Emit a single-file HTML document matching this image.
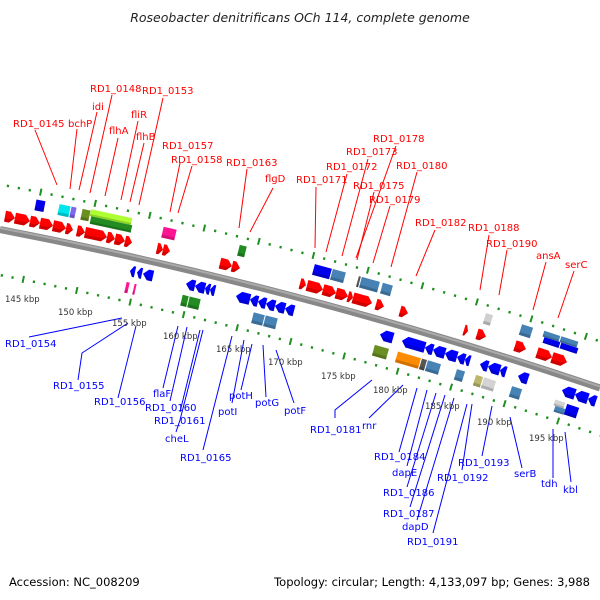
<!DOCTYPE html>
<html><head><meta charset="utf-8">
<style>
html,body{margin:0;padding:0;background:#fff;}
svg{display:block;}
.t{font-family:"DejaVu Sans","Liberation Sans",sans-serif;font-size:10px;}
.r{fill:#f00;}
.b{fill:#00f;}
.k{font-family:"DejaVu Sans","Liberation Sans",sans-serif;font-size:8.5px;fill:#333;}
.lr{stroke:#f00;stroke-width:1;fill:none;}
.lb{stroke:#00f;stroke-width:1;fill:none;}
</style></head>
<body>
<svg id="s" width="600" height="600" viewBox="0 0 600 600" xmlns="http://www.w3.org/2000/svg">
<rect width="600" height="600" fill="#fff"/>
<text x="300" y="22" text-anchor="middle" font-family="DejaVu Sans, Liberation Sans, sans-serif" font-size="12.5" font-style="italic" fill="#222">Roseobacter denitrificans OCh 114, complete genome</text>
<g id="dots"></g>
<path d="M0 229.5 Q300 287.2 600 388" stroke="#888" stroke-width="7" fill="none"/>
<path d="M0 228 Q300 285.7 600 386.5" stroke="#aaa" stroke-width="2" fill="none"/>
<g id="genes"></g>
<!-- red leader lines -->
<g class="lr">
<polyline points="35,130 57,185"/><polyline points="77,129 70,189"/><polyline points="97,112 79,190"/>
<polyline points="112,95 90,193"/><polyline points="163,98 139,205"/><polyline points="118,138 105,196"/>
<polyline points="138,121 121,200"/><polyline points="144,143 130,202"/><polyline points="180,163 170,212"/>
<polyline points="192,166 178,213"/><polyline points="247,169 239,228"/><polyline points="273,188 250,232"/>
<polyline points="316,187 315,248"/><polyline points="347,174 326,252"/><polyline points="368,159 342,256"/>
<polyline points="396,146 356,258"/><polyline points="374,192 357,260"/><polyline points="390,206 373,263"/>
<polyline points="417,172 391,267"/><polyline points="435,230 416,276"/><polyline points="489,235 480,290"/>
<polyline points="507,250 499,295"/><polyline points="546,262 533,310"/><polyline points="574,271 558,318"/>
</g>
<g class="t r">
<text x="13" y="127">RD1_0145</text><text x="68" y="127">bchP</text><text x="92" y="110">idi</text>
<text x="90" y="92">RD1_0148</text><text x="142" y="94">RD1_0153</text><text x="109" y="134">flhA</text>
<text x="131" y="118">fliR</text><text x="136" y="140">flhB</text><text x="162" y="149">RD1_0157</text>
<text x="171" y="163">RD1_0158</text><text x="226" y="166">RD1_0163</text><text x="265" y="182">flgD</text>
<text x="296" y="183">RD1_0171</text><text x="326" y="170">RD1_0172</text><text x="346" y="155">RD1_0173</text>
<text x="373" y="142">RD1_0178</text><text x="353" y="189">RD1_0175</text><text x="369" y="203">RD1_0179</text>
<text x="396" y="169">RD1_0180</text><text x="415" y="226">RD1_0182</text><text x="468" y="231">RD1_0188</text>
<text x="486" y="247">RD1_0190</text><text x="536" y="259">ansA</text><text x="565" y="268">serC</text>
</g>
<!-- blue leader lines -->
<g class="lb">
<polyline points="29,337 122,318"/><polyline points="78,380 82,353 128,323"/><polyline points="118,398 136,326"/>
<polyline points="163,388 178,326"/><polyline points="170,401 187,327"/><polyline points="180,412 200,330"/>
<polyline points="176,432 180,420 203,330"/><polyline points="203,450 232,336"/><polyline points="232,403 244,340"/>
<polyline points="241,390 252,344"/><polyline points="266,397 263,345"/><polyline points="294,403 276,350"/>
<polyline points="335,418 335,410 372,380"/><polyline points="369,418 403,385"/><polyline points="399,452 417,388"/>
<polyline points="407,466 427,390"/><polyline points="407,487 436,393"/><polyline points="410,507 445,395"/>
<polyline points="417,520 454,398"/><polyline points="433,533 467,404"/><polyline points="462,470 472,404"/>
<polyline points="482,456 492,406"/><polyline points="522,468 510,417"/><polyline points="553,478 553,429"/>
<polyline points="571,482 565,432"/>
</g>
<g class="t b">
<text x="5" y="347">RD1_0154</text><text x="53" y="389">RD1_0155</text><text x="94" y="405">RD1_0156</text>
<text x="153" y="397">flaF</text><text x="145" y="411">RD1_0160</text><text x="154" y="424">RD1_0161</text>
<text x="165" y="442">cheL</text><text x="180" y="461">RD1_0165</text><text x="229" y="399">potH</text>
<text x="218" y="415">potI</text><text x="255" y="406">potG</text><text x="284" y="414">potF</text>
<text x="310" y="433">RD1_0181</text><text x="362" y="429">rnr</text><text x="374" y="460">RD1_0184</text>
<text x="392" y="476">dapE</text><text x="383" y="496">RD1_0186</text><text x="383" y="517">RD1_0187</text>
<text x="402" y="530">dapD</text><text x="407" y="545">RD1_0191</text><text x="437" y="481">RD1_0192</text>
<text x="458" y="466">RD1_0193</text><text x="514" y="477">serB</text><text x="541" y="487">tdh</text>
<text x="563" y="493">kbl</text>
</g>
<g class="k">
<text x="5" y="302">145 kbp</text><text x="58" y="315">150 kbp</text><text x="112" y="326">155 kbp</text>
<text x="163" y="339">160 kbp</text><text x="216" y="352">165 kbp</text><text x="268" y="365">170 kbp</text>
<text x="321" y="379">175 kbp</text><text x="373" y="393">180 kbp</text><text x="425" y="409">185 kbp</text>
<text x="477" y="425">190 kbp</text><text x="529" y="441">195 kbp</text>
</g>
<text x="9" y="586" font-family="DejaVu Sans, Liberation Sans, sans-serif" font-size="11.5" fill="#000">Accession: NC_008209</text>
<text x="590" y="586" text-anchor="end" font-family="DejaVu Sans, Liberation Sans, sans-serif" font-size="11.5" fill="#000">Topology: circular; Length: 4,133,097 bp; Genes: 3,988</text>
</svg>
<script>
(function(){
var NS="http://www.w3.org/2000/svg";
function Y(x){return 229.5+0.1923*x+1.198e-4*x*x;}
function S(x){return 0.1923+2.396e-4*x;}
function P(u,v){var s=S(u),n=Math.sqrt(1+s*s);return [u+v*s/n, Y(u)-v/n];}
function poly(pts,fill,parent){var p=document.createElementNS(NS,"polygon");
 p.setAttribute("points",pts.map(function(q){var r=P(q[0],q[1]);return r[0].toFixed(1)+","+r[1].toFixed(1);}).join(" "));
 p.setAttribute("fill",fill);parent.appendChild(p);}
function line(u,v1,v2,parent,w){var a=P(u,v1),b=P(u,v2);var l=document.createElementNS(NS,"line");
 l.setAttribute("x1",a[0]);l.setAttribute("y1",a[1]);l.setAttribute("x2",b[0]);l.setAttribute("y2",b[1]);
 l.setAttribute("stroke","#1f8f1f");l.setAttribute("stroke-width",w);parent.appendChild(l);}
var dg=document.getElementById("dots");
for(var k=-6;k<60;k++){var u=32+10.8*k;var dash=(k%5===0);
 if(dash){line(u,41,48,dg,2);line(u,-41,-48,dg,2);}else{line(u,43,45.5,dg,2.2);line(u,-43.5,-46,dg,2.2);}}
var g=document.getElementById("genes");
function corr(x,d){var s=S(x);return x-d*s/Math.sqrt(1+s*s);}
function shade(c){return c;}
function fwd(xa,xb,d,c){var a=corr(xa,d),b=corr(xb,d),h=5.5,hl=Math.min(5,(b-a)*0.6);
 poly([[a,d-h],[b-hl,d-h],[b,d],[b-hl,d+h],[a,d+h]],c,g);
 poly([[a,d-h],[b-hl,d-h],[b,d],[b-hl,d-h+3.5],[a,d-h+3.5]],"rgba(0,0,0,0.18)",g);}
function rev(xa,xb,d,c){var a=corr(xa,d),b=corr(xb,d),h=5.5,hl=Math.min(5,(b-a)*0.6);
 poly([[b,d-h],[a+hl,d-h],[a,d],[a+hl,d+h],[b,d+h]],c,g);
 poly([[b,d-h],[a+hl,d-h],[a,d],[a+hl,d-h+3.5],[b,d-h+3.5]],"rgba(0,0,0,0.18)",g);}
function box(xa,xb,v1,v2,c){var d=(v1+v2)/2,a=corr(xa,d)+0.5,b=corr(xb,d)-0.5;
 poly([[a,v1],[b,v1],[b,v2],[a,v2]],c,g);
 poly([[a,v1],[b,v1],[b,v1+Math.min(3,(v2-v1)*0.3)],[a,v1+Math.min(3,(v2-v1)*0.3)]],"rgba(0,0,0,0.18)",g);}
var F=[[5,15],[15,30],[30,40],[40,53],[53,66],[66,73],[77,85],[85,107],[107,115],[115,125],[125,132],[157,163],[163,170],[220,232],[232,240],[300,306],[307,323],[323,336],[336,348],[348,353],[353,372],[376,384],[400,408],[464,468],[477,486],[515,526],[537,552],[552,567]];
F.forEach(function(q){fwd(q[0],q[1],14,"#ff0000");});
var R=[[130,135],[137,142],[143,153],[186,195],[195,205],[205,210],[210,215],[236,250],[250,258],[258,266],[266,275],[275,285],[285,294],[380,393],[402,425],[425,433],[433,445],[445,457],[457,465],[465,470],[480,488],[488,500],[500,506],[518,528],[562,575],[575,588],[588,596]];
R.forEach(function(q){rev(q[0],q[1],-14,"#0000ff");});
var T=[[35,45,"#0000ee"],[58,70,"#00e5ee"],[70,76,"#7b68ee"],[81,90,"#6b8e23"],[162,176,"#ff1493"],[238,246,"#228b22"],[313,331,"#0000ee"],[331,345,"#4682b4"],[357,360,"#555"],[360,379,"#4682b4"],[381,392,"#4682b4"],[484,492,"#cfcfcf"],[520,532,"#4682b4"]];
T.forEach(function(q){box(q[0],q[1],25.5,36.5,q[2]);});
box(90,132,31,38,"#adff2f");box(90,132,23.5,31,"#228b22");
box(543,560,31,37,"#4682b4");box(543,560,25,31,"#0000ee");
box(560,578,31,37,"#4682b4");box(560,578,25,31,"#0000ee");
var B=[[125,129,"#ff1493"],[133,136,"#ff1493"],[181,188,"#228b22"],[188,200,"#228b22"],[252,264,"#4682b4"],[264,277,"#4682b4"],[373,388,"#6b8e23"],[396,420,"#ff8c00"],[420,426,"#555"],[426,440,"#4682b4"],[455,464,"#4682b4"],[474,482,"#bdb76b"],[482,495,"#d3d3d3"],[510,521,"#4682b4"],[565,578,"#0000ee"]];
B.forEach(function(q){box(q[0],q[1],-36.5,-25.5,q[2]);});
box(554,565,-31,-25,"#d3d3d3");box(554,565,-37,-31,"#4682b4");
})();
</script>
</body></html>
